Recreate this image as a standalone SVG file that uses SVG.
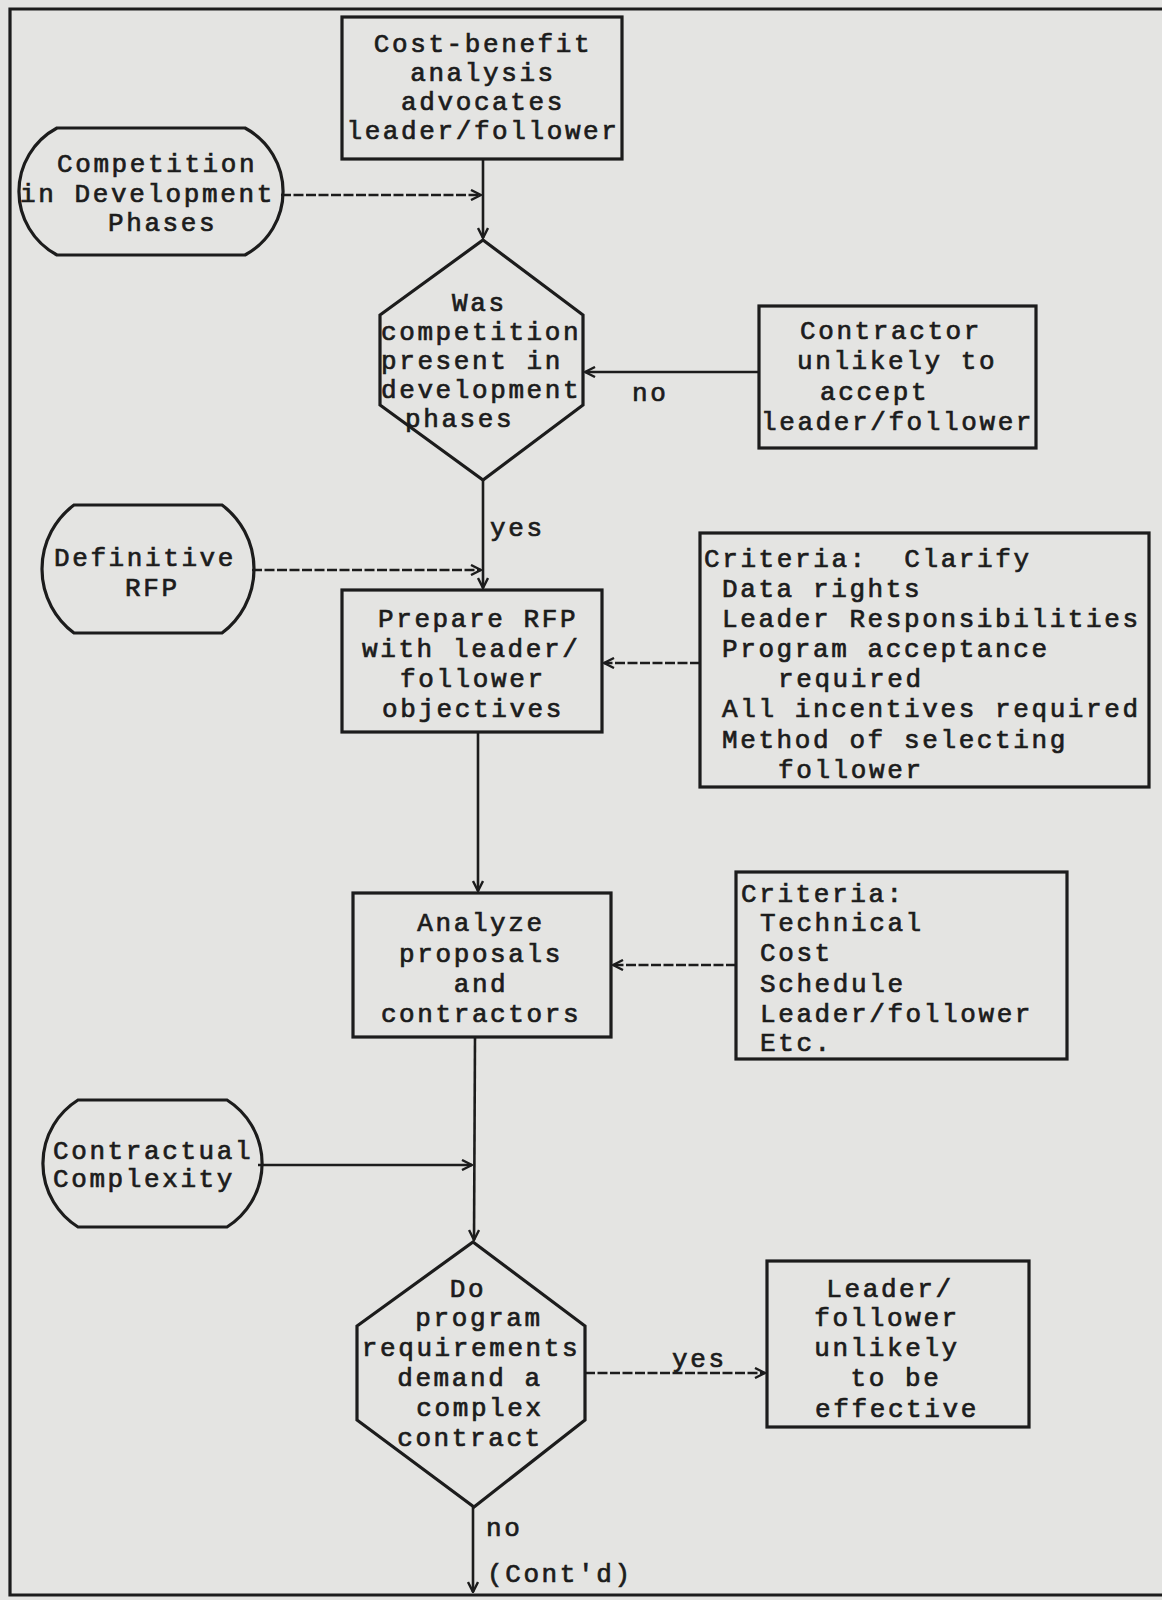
<svg xmlns="http://www.w3.org/2000/svg" width="1162" height="1600" viewBox="0 0 1162 1600">
<defs>
<style>
.bg{fill:#e4e4e2}
.shape{fill:none;stroke:#1c1c1c;stroke-width:3.2;stroke-linejoin:miter}
.conn{fill:none;stroke:#1c1c1c;stroke-width:2.6}
.dash{stroke-dasharray:10 2.5}
text{font-family:"Liberation Mono","Courier New",monospace;font-size:26px;letter-spacing:2.6px;fill:#1c1c1c;stroke:#1c1c1c;stroke-width:0.7}
.m{text-anchor:middle}
</style>
<marker id="ah" viewBox="0 0 12 12" refX="11" refY="6" markerWidth="12" markerHeight="12" markerUnits="userSpaceOnUse" orient="auto">
<path d="M1,1 L11,6 L1,11" fill="none" stroke="#1c1c1c" stroke-width="2.4"/>
</marker>
</defs>
<rect class="bg" x="0" y="0" width="1162" height="1600"/>
<path class="shape" d="M1162,9 L10,9 L10,1595 L1162,1595"/>

<g id="connectors">
<line class="conn" x1="483" y1="159" x2="483" y2="238" marker-end="url(#ah)"/>
<line class="conn dash" x1="281" y1="195" x2="481" y2="195" marker-end="url(#ah)"/>
<line class="conn" x1="759" y1="372" x2="585" y2="372" marker-end="url(#ah)"/>
<text x="632" y="401">no</text>
<line class="conn" x1="483" y1="480" x2="483" y2="588" marker-end="url(#ah)"/>
<text x="490" y="536">yes</text>
<line class="conn dash" x1="252" y1="570" x2="481" y2="570" marker-end="url(#ah)"/>
<line class="conn dash" x1="700" y1="663" x2="604" y2="663" marker-end="url(#ah)"/>
<line class="conn" x1="478" y1="732" x2="478" y2="891" marker-end="url(#ah)"/>
<line class="conn dash" x1="736" y1="965" x2="613" y2="965" marker-end="url(#ah)"/>
<line class="conn" x1="475" y1="1037" x2="474" y2="1240" marker-end="url(#ah)"/>
<line class="conn" x1="258" y1="1165" x2="472" y2="1165" marker-end="url(#ah)"/>
<line class="conn dash" x1="585" y1="1373" x2="765" y2="1373" marker-end="url(#ah)"/>
<text x="672" y="1367">yes</text>
<line class="conn" x1="473" y1="1507" x2="473" y2="1592" marker-end="url(#ah)"/>
<text x="486" y="1536">no</text>
<text x="487" y="1582">(Cont'd)</text>
</g>

<g id="cost-benefit">
<rect class="shape" x="342" y="17" width="280" height="142"/>
<text class="m" x="483" y="52">Cost-benefit</text>
<text class="m" x="483" y="81">analysis</text>
<text class="m" x="483" y="110">advocates</text>
<text class="m" x="483" y="139">leader/follower</text>
</g>

<g id="competition">
<path class="shape" d="M57,128 L245,128 A72,72 0 0 1 245,255 L57,255 A72,72 0 0 1 57,128 Z"/>
<text x="57" y="172">Competition</text>
<text x="20" y="202">in Development</text>
<text x="108" y="231">Phases</text>
</g>

<g id="decision-competition">
<path class="shape" d="M483,240 L583,315 L583,405 L483,480 L380,405 L380,315 Z"/>
<text x="452" y="311">Was</text>
<text x="381" y="340">competition</text>
<text x="381" y="369">present in</text>
<text x="381" y="398">development</text>
<text x="405" y="427">phases</text>
</g>

<g id="contractor-unlikely">
<rect class="shape" x="759" y="306" width="277" height="142"/>
<text x="800" y="339">Contractor</text>
<text x="797" y="369">unlikely to</text>
<text x="820" y="400">accept</text>
<text x="761" y="430">leader/follower</text>
</g>

<g id="definitive-rfp">
<path class="shape" d="M74,505 L222,505 A80,80 0 0 1 222,633 L74,633 A80,80 0 0 1 74,505 Z"/>
<text x="54" y="566">Definitive</text>
<text x="125" y="596">RFP</text>
</g>

<g id="prepare-rfp">
<rect class="shape" x="342" y="590" width="260" height="142"/>
<text x="378" y="627">Prepare RFP</text>
<text x="362" y="657">with leader/</text>
<text x="400" y="687">follower</text>
<text x="382" y="717">objectives</text>
</g>

<g id="criteria-clarify">
<rect class="shape" x="700" y="533" width="449" height="254"/>
<text x="704" y="567" xml:space="preserve">Criteria:  Clarify</text>
<text x="722" y="597">Data rights</text>
<text x="722" y="627">Leader Responsibilities</text>
<text x="722" y="657">Program acceptance</text>
<text x="778" y="687">required</text>
<text x="722" y="717">All incentives required</text>
<text x="722" y="748">Method of selecting</text>
<text x="778" y="778">follower</text>
</g>

<g id="analyze">
<rect class="shape" x="353" y="893" width="258" height="144"/>
<text class="m" x="481" y="931">Analyze</text>
<text class="m" x="481" y="962">proposals</text>
<text class="m" x="481" y="992">and</text>
<text class="m" x="481" y="1022">contractors</text>
</g>

<g id="criteria-technical">
<rect class="shape" x="736" y="872" width="331" height="187"/>
<text x="741" y="902">Criteria:</text>
<text x="760" y="931">Technical</text>
<text x="760" y="961">Cost</text>
<text x="760" y="992">Schedule</text>
<text x="760" y="1022">Leader/follower</text>
<text x="760" y="1051">Etc.</text>
</g>

<g id="contractual-complexity">
<path class="shape" d="M78,1100 L227,1100 A75,75 0 0 1 227,1227 L78,1227 A75,75 0 0 1 78,1100 Z"/>
<text x="53" y="1159">Contractual</text>
<text x="53" y="1187">Complexity</text>
</g>

<g id="decision-complex">
<path class="shape" d="M473,1242 L585,1326 L585,1420 L474,1507 L357,1420 L357,1326 Z"/>
<text class="m" x="468" y="1297">Do</text>
<text class="m" x="479" y="1326">program</text>
<text class="m" x="471" y="1356">requirements</text>
<text class="m" x="470" y="1386">demand a</text>
<text class="m" x="480" y="1416">complex</text>
<text class="m" x="470" y="1446">contract</text>
</g>

<g id="leader-unlikely">
<rect class="shape" x="767" y="1261" width="262" height="166"/>
<text class="m" x="890" y="1297">Leader/</text>
<text class="m" x="887" y="1326">follower</text>
<text class="m" x="887" y="1356">unlikely</text>
<text class="m" x="896" y="1386">to be</text>
<text class="m" x="897" y="1417">effective</text>
</g>
</svg>
